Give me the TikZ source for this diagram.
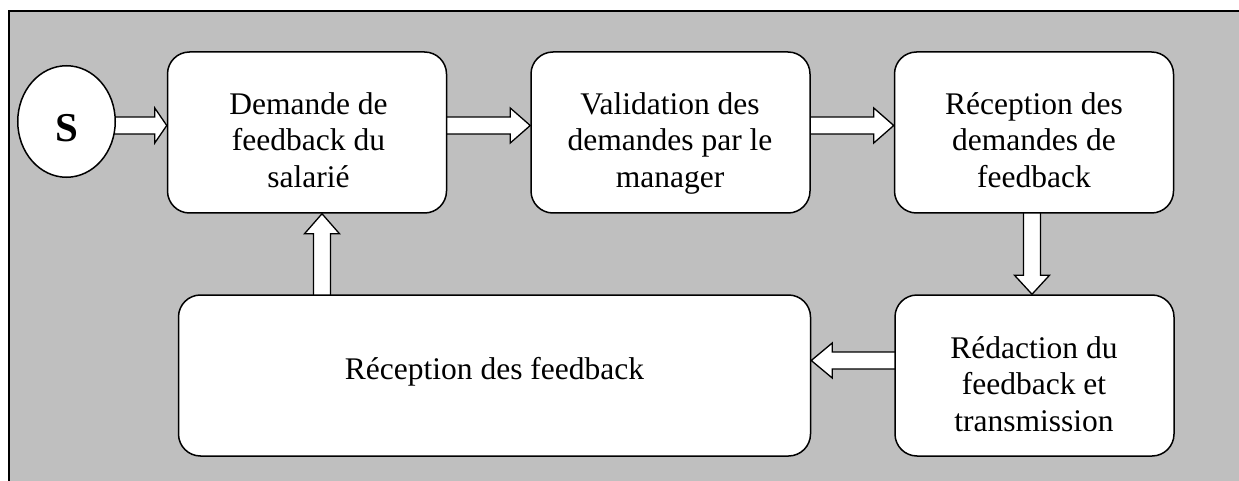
\documentclass[tikz,border=0pt]{standalone}
\usepackage{fontspec}
\setmainfont{Liberation Serif}
\usetikzlibrary{shapes.geometric,calc}
\definecolor{bggray}{RGB}{191,191,191}
\pgfdeclarelayer{bglayer}
\pgfdeclarelayer{arrlayer}
\pgfsetlayers{bglayer,arrlayer,main}
% #1 start coordinate, #2 tip coordinate, #3 head length
\newcommand\blockarrow[3]{%
  \path ($(#2)!#3!(#1)$) coordinate (hh);
  \draw[barrow] ($(#1)!8.5pt!90:(#2)$) -- ($(hh)!8.5pt!-90:(#1)$)
    -- ($(hh)!17.5pt!-90:(#1)$) -- (#2) -- ($(hh)!17.5pt!90:(#1)$)
    -- ($(hh)!8.5pt!90:(#1)$) -- ($(#1)!8.5pt!-90:(#2)$) -- cycle;
}
\begin{document}
\begin{tikzpicture}[x=1pt,y=-1pt,
  box/.style={draw, line width=1.5pt, rounded corners=22pt, fill=white,
    minimum width=279pt, minimum height=161pt, inner sep=0pt},
  lbl/.style={font=\fontsize{31.5}{36.5}\selectfont, align=center, inner sep=0pt},
  barrow/.style={draw, fill=white, line width=1.3pt, line join=miter}]
\useasboundingbox (0,0) rectangle (1239,481);
\clip (0,0) rectangle (1239,481);
\begin{pgfonlayer}{bglayer}
  \fill[white] (0,0) rectangle (1239,481);
  \filldraw[fill=bggray, draw=black, line width=1.2pt] (9,11) rectangle (1260,500);
\end{pgfonlayer}

% nodes
\node[ellipse, draw, fill=white, line width=1.5pt, minimum width=97.5pt,
  minimum height=111.5pt, inner sep=0pt] (S) at (66.5,121.5) {};
\node[font=\fontsize{41}{43}\selectfont\bfseries, inner sep=0pt] (Slbl) at (67,128.5) {S};

\node[box] (b1) at (307,132.5) {};
\node[box] (b2) at (670.5,132.5) {};
\node[box] (b3) at (1034,132.5) {};
\node[box] (b4) at (1034.5,375.5) {};
\node[box, minimum width=632pt] (b5) at (494.5,375.5) {};

\node[lbl, anchor=north] (t1) at (308.5,92) {Demande de\\feedback du\\salarié};
\node[lbl, anchor=north] (t2) at (670,92) {Validation des\\demandes par le\\manager};
\node[lbl, anchor=north] (t3) at (1034,92) {Réception des\\demandes de\\feedback};
\node[lbl, anchor=north] (t4) at (1034,336) {Rédaction du\\feedback et\\transmission};
\node[lbl, anchor=base] (t5) at (494.5,379) {Réception des feedback};

% connector coordinates
\coordinate (ya) at (0,125.5);
\coordinate (yb) at (0,360.5);
\coordinate (xa) at (1032,0);
\coordinate (xb) at (322,0);
\coordinate (s1) at ($(S.east|-ya)+(-14,0)$);
\coordinate (e1) at (b1.west|-ya);
\coordinate (s2) at ($(b1.east|-ya)+(-10,0)$);
\coordinate (e2) at (b2.west|-ya);
\coordinate (s3) at ($(b2.east|-ya)+(-10,0)$);
\coordinate (e3) at (b3.west|-ya);
\coordinate (s4) at ($(b3.south-|xa)+(0,-10)$);
\coordinate (e4) at (b4.north-|xa);
\coordinate (s5) at ($(b4.west|-yb)+(10,0)$);
\coordinate (e5) at (b5.east|-yb);
\coordinate (s6) at ($(b5.north-|xb)+(0,10)$);
\coordinate (e6) at (b1.south-|xb);

\begin{pgfonlayer}{arrlayer}
  \blockarrow{s1}{e1}{12pt}
  \blockarrow{s2}{e2}{20pt}
  \blockarrow{s3}{e3}{20pt}
  \blockarrow{s4}{e4}{19pt}
  \blockarrow{s5}{e5}{21pt}
  \blockarrow{s6}{e6}{20pt}
\end{pgfonlayer}
\end{tikzpicture}
\end{document}
